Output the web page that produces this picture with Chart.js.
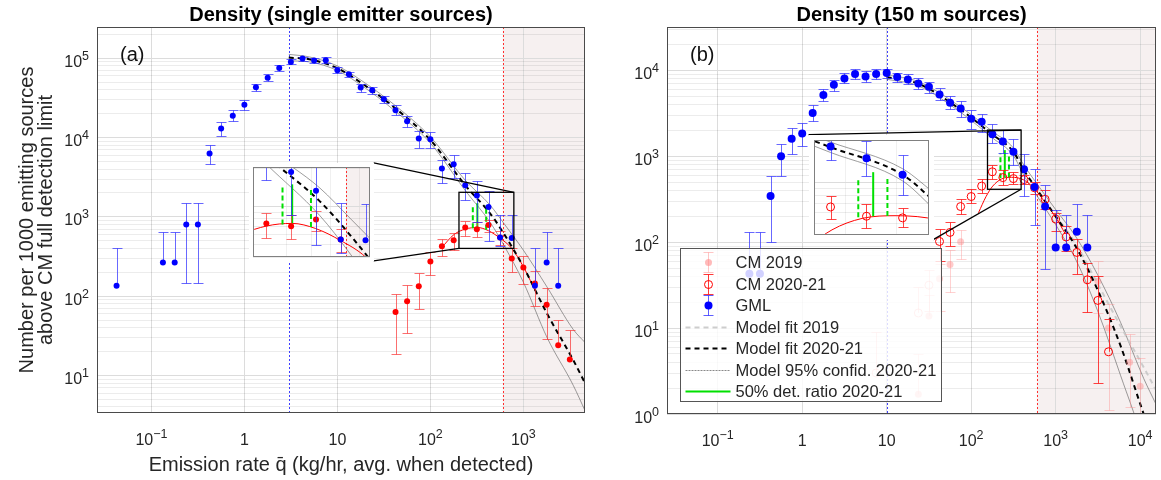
<!DOCTYPE html>
<html>
<head>
<meta charset="utf-8">
<script src="https://cdn.jsdelivr.net/npm/chart.js@4.4.0/dist/chart.umd.min.js"></script>
<style>
  html, body { margin: 0; padding: 0; background: #fff; }
  #wrap { position: relative; width: 1161px; height: 480px; overflow: hidden; }
  canvas { position: absolute; top: 0; }
</style>
</head>
<body>
<div id="wrap">
  <canvas id="cA" width="590" height="480" style="left:0px"></canvas>
  <canvas id="cB" width="571" height="480" style="left:590px"></canvas>
  <canvas id="iA"></canvas>
  <canvas id="iB"></canvas>
</div>
<script>
// ---------- panel (a): single emitter sources ----------
const aGmlQ  = [0.0422, 0.133, 0.178, 0.237, 0.316, 0.422, 0.562, 0.75, 1.0, 1.33, 1.78, 2.37, 3.16, 4.22, 5.62, 7.5, 10, 13.3, 17.8, 23.7, 31.6, 42.2, 56.2, 75, 100, 133, 178, 237, 316, 422, 562, 750, 1330, 1780, 2370];
const aGmlY  = [135, 265, 265, 800, 800, 6300, 13000, 18900, 26000, 43000, 57000, 75500, 90000, 99000, 93500, 94400, 70600, 62900, 42700, 39400, 30400, 22100, 16100, 9700, 9530, 4060, 4600, 2500, 1860, 1330, 550, 542, 135, 265, 135];
const aGmlLo = [null, null, null, 148, 148, 4600, 10500, 16100, 22500, 38700, 51500, 69000, 83500, 93600, 87000, 86400, 65300, 58200, 37600, 35500, 27400, 19300, 13400, 7400, 7360, 2690, 3100, 1620, 863, 500, 430, null, null, null, null];
const aGmlHi = [400, 650, 650, 1480, 1480, 8000, 15700, 22100, 30100, 48000, 63500, 82500, 97000, 104000, 99500, 103000, 77000, 68000, 46800, 43000, 33900, 25400, 18600, 12000, 11700, 5230, 6100, 3580, 2810, 2120, 1070, 1050, 400, 650, 400];

const aCmQ  = [42.2, 56.2, 75, 100, 133, 178, 237, 316, 422, 562, 750, 1000, 1330, 1780, 2370, 3160];
const aCmY  = [63, 86, 133, 273, 425, 507, 733, 698, 790, 550, 298, 230, 144, 78, 24, 15.9];
const aCmLo = [18.5, 34.7, 68, 184, 318, 379, 569, 558, 640, 440, 202, 144, 75, 29, null, null];
const aCmHi = [108, 137, 196, 361, 533, 627, 880, 855, 925, 660, 400, 318, 208, 125, 50, 37];

const aFitQ  = [3, 5, 10, 20, 40, 100, 237, 440, 630, 1000, 1800, 3440, 4600];
const aFitY  = [102000, 97000, 75000, 45000, 24500, 9300, 2500, 1100, 590, 235, 60, 15.6, 8];
const aFitUp = [112000, 104000, 80000, 48500, 26500, 10200, 2900, 1400, 800, 380, 130, 38, 26];
const aFitLo = [93000, 90000, 70000, 42000, 22500, 8500, 2150, 850, 420, 150, 30, 7.5, 3.6];

const aRedFitQ = [130, 180, 237, 320, 420, 560, 750, 1000, 1400];
const aRedFitY = [400, 600, 700, 735, 670, 540, 400, 235, 105];

const aDetQ  = [286, 320, 398];
const aDetLo = [720, 735, 690];
const aDetHi = [1420, 1490, 1400];

const aQLimBlue = 3, aQLimRed = 600;
const aZoomQ = [203, 790], aZoomY = [400, 2040];
const aInsetQ = [1.11, 24.6], aInsetY = [278, 4800];

const aXTickVals = [0.1, 1, 10, 100, 1000];
const aXTickLabels = ['10^−1', '1', '10', '10^2', '10^3'];
const aYTickVals = [10, 100, 1000, 10000, 100000];
const aYTickLabels = ['10^1', '10^2', '10^3', '10^4', '10^5'];

// ---------- panel (b): 150 m sources ----------
const bGmlQ  = [0.237, 0.316, 0.422, 0.562, 0.75, 1.0, 1.33, 1.78, 2.37, 3.16, 4.22, 5.62, 7.5, 10, 13.3, 17.8, 23.7, 31.6, 42.2, 56.2, 75, 100, 133, 178, 237, 316, 422, 562, 750, 1000, 1330, 1780, 2370];
const bGmlY  = [43, 43, 345, 1000, 1600, 1840, 3190, 5160, 6800, 8070, 9060, 8510, 9060, 9300, 8400, 7850, 7060, 6460, 5250, 4200, 3610, 2740, 2530, 1810, 1490, 1130, 706, 440, 260, 87, 87, 132, 87];
const bGmlLo = [null, null, 100, 590, 1070, 1320, 2570, 4400, 5800, 7060, 7850, 7400, 7850, 8150, 7380, 6870, 6120, 5500, 4480, 3510, 2900, 2100, 1920, 1440, 1100, 800, 345, 160, 48.5, null, null, null, null];
const bGmlHi = [130, 130, 590, 1400, 2150, 2450, 3920, 6120, 7800, 9230, 10250, 9800, 10250, 10500, 9320, 9000, 8070, 7400, 6220, 5020, 4400, 3420, 3080, 2400, 2000, 1570, 1050, 713, 467, 234, 206, 279, 206];

const bCmQ  = [42.2, 56.2, 75, 100, 133, 178, 237, 316, 422, 562, 750, 1000, 1330, 1780, 2370, 3160, 4220];
const bCmY  = [102, 130, 260, 340, 450, 660, 565, 550, 535, 430, 316, 186, 115, 76, 36.5, 21, 5.3];
const bCmLo = [60, 90, 212, 284, 378, 537, 463, 470, 470, 360, 242, 135, 80, 43, 15.5, 2.3, null];
const bCmHi = [142, 170, 316, 413, 537, 795, 692, 648, 610, 500, 400, 221, 155, 108, 58, 40, 12.7];

const bCm19Q  = [23.7, 31.6, 42.2, 56.2, 75, 3160, 4220, 7500, 10000];
const bCm19Y  = [1.7, 13.8, 37.5, 55, 101, 35, 10, 4, 2.1];
const bCm19Lo = [null, null, 16, 26, 63, 15, 1.1, 1.2, 1.0];
const bCm19Hi = [5, 24, 55, 82, 140, 60, 19, 8.5, 4.5];

const bCmFadeQ  = [7.5, 23.7, 31.6];
const bCmFadeY  = [3.0, 15, 31.6];
const bCmFadeLo = [null, null, 16];
const bCmFadeHi = [8.9, 30, 48];

const bFitQ  = [10, 23.7, 75, 178, 316, 420, 565, 1000, 1740, 3130, 5870, 11000, 15400];
const bFitY  = [8360, 7000, 3490, 1790, 1130, 690, 448, 200, 88, 28, 6.2, 1.0, 0.4];
const bFitUp = [8900, 7400, 3750, 1950, 1250, 790, 520, 240, 115, 42, 11.6, 2.6, 1.3];
const bFitLo = [7900, 6600, 3250, 1640, 1020, 600, 380, 160, 62, 16, 2.8, 0.45, 0.12];

const bFit19Q = [1000, 1740, 3130, 5870, 11000, 15400];
const bFit19Y = [205, 95, 33, 10.5, 3.5, 1.9];

const bRedFitQ = [122, 150, 180, 229, 300, 420, 560, 750, 1000, 1300];
const bRedFitY = [220, 340, 450, 545, 570, 530, 420, 290, 195, 125];

const bDetQ  = [222, 250, 280];
const bDetLo = [555, 565, 568];
const bDetHi = [1080, 1180, 1080];

const bQLimBlue = 10, bQLimRed = 600;
const bZoomQ = [156, 390], bZoomY = [413, 2020];
const bInsetQ = [1.19, 35.5], bInsetY = [107, 1790];

const bXTickVals = [0.1, 1, 10, 100, 1000, 10000];
const bXTickLabels = ['10^−1', '1', '10', '10^2', '10^3', '10^4'];
const bYTickVals = [1, 10, 100, 1000, 10000];
const bYTickLabels = ['10^0', '10^1', '10^2', '10^3', '10^4'];

const legendLabels = ['CM 2019', 'CM 2020-21', 'GML', 'Model fit 2019', 'Model fit 2020-21', 'Model 95% confid. 2020-21', '50% det. ratio 2020-21'];

// ---------- helpers ----------
const FONT = '"Liberation Sans", Arial, Helvetica, sans-serif';
const TXT = '#262626';
Chart.defaults.font.family = FONT;
Chart.defaults.color = TXT;

const pts = (xs, ys) => xs.map((q, i) => ({x: q, y: ys[i]}));

function lineDs(xs, ys, color, width, dash, order) {
  return {data: pts(xs, ys), showLine: true, borderColor: color, borderWidth: width, borderDash: dash,
    pointRadius: 0, fill: false, order: order, cubicInterpolationMode: 'monotone'};
}
function segDs(q, lo, hi, color, width, dash, order) {
  return {data: [{x: q, y: lo}, {x: q, y: hi}], showLine: true, borderColor: color, borderWidth: width,
    borderDash: dash, pointRadius: 0, fill: false, order: order, tension: 0};
}
function errDs(xs, ys, lo, hi, o) {
  return {data: pts(xs, ys), errLo: lo, errHi: hi, errColor: o.err, capW: o.cap, showLine: false,
    pointRadius: o.r, pointStyle: 'circle', pointBackgroundColor: o.fill, pointBorderColor: o.edge,
    pointBorderWidth: o.bw, order: o.order};
}

function datasetsA() {
  const ds = [
    lineDs(aFitQ, aFitUp, 'rgba(90,90,90,0.85)', 0.7, [], 6),
    lineDs(aFitQ, aFitLo, 'rgba(90,90,90,0.85)', 0.7, [], 6),
    lineDs(aFitQ, aFitY, '#000000', 2, [5, 4], 5),
    lineDs(aRedFitQ, aRedFitY, '#ff0000', 1, [], 5)
  ];
  aDetQ.forEach((q, i) => ds.push(segDs(q, aDetLo[i], aDetHi[i], '#00e000', 2, i === 1 ? [] : [5, 3], 4)));
  ds.push(errDs(aCmQ, aCmY, aCmLo, aCmHi, {err: 'rgba(250,50,50,0.7)', cap: 5, r: 3, fill: '#ff0000', edge: '#ff0000', bw: 0, order: 2}));
  ds.push(errDs(aGmlQ, aGmlY, aGmlLo, aGmlHi, {err: 'rgba(40,40,255,0.7)', cap: 5, r: 3, fill: '#0000ff', edge: '#0000ff', bw: 0, order: 1}));
  return ds;
}

function datasetsB() {
  const ds = [
    lineDs(bFitQ, bFitUp, 'rgba(90,90,90,0.85)', 0.7, [], 7),
    lineDs(bFitQ, bFitLo, 'rgba(90,90,90,0.85)', 0.7, [], 7),
    lineDs(bFit19Q, bFit19Y, 'rgba(200,200,200,0.9)', 2, [5, 4], 6),
    lineDs(bFitQ, bFitY, '#000000', 2, [5, 4], 5),
    lineDs(bRedFitQ, bRedFitY, '#ff0000', 1, [], 5)
  ];
  bDetQ.forEach((q, i) => ds.push(segDs(q, bDetLo[i], bDetHi[i], '#00e000', 2, i === 1 ? [] : [5, 3], 4)));
  ds.push(errDs(bCm19Q, bCm19Y, bCm19Lo, bCm19Hi, {err: 'rgba(255,140,140,0.4)', cap: 5, r: 3.5, fill: 'rgba(255,140,140,0.45)', edge: 'rgba(0,0,0,0)', bw: 0, order: 3}));
  ds.push(errDs(bCmFadeQ, bCmFadeY, bCmFadeLo, bCmFadeHi, {err: 'rgba(255,120,120,0.4)', cap: 5, r: 4, fill: 'rgba(0,0,0,0)', edge: 'rgba(255,110,110,0.5)', bw: 1, order: 3}));
  ds.push(errDs(bCmQ, bCmY, bCmLo, bCmHi, {err: 'rgba(255,20,20,0.8)', cap: 5, r: 4, fill: 'rgba(0,0,0,0)', edge: '#ff0000', bw: 1, order: 2}));
  ds.push(errDs(bGmlQ, bGmlY, bGmlLo, bGmlHi, {err: 'rgba(40,40,255,0.7)', cap: 5, r: 4, fill: '#0000ff', edge: '#0000ff', bw: 0, order: 1}));
  return ds;
}

function logTicks(scale) {
  const t = [];
  const e0 = Math.floor(Math.log10(scale.min)), e1 = Math.ceil(Math.log10(scale.max));
  for (let e = e0; e <= e1; e++) {
    for (let m = 1; m <= 9; m++) {
      const v = m * Math.pow(10, e);
      if (v >= scale.min * 0.9999 && v <= scale.max * 1.0001) t.push({value: v});
    }
  }
  scale.ticks = t;
}
const isMajor = v => Math.abs(Math.log10(v) - Math.round(Math.log10(v))) < 1e-6;

function axes(o) {
  return {
    x: {
      type: 'logarithmic', min: o.xr[0], max: o.xr[1], afterBuildTicks: logTicks,
      afterFit: s => { s.height = o.xh; },
      ticks: {display: false, autoSkip: false, maxRotation: 0, minRotation: 0},
      grid: {drawTicks: false, lineWidth: 1, color: c => (c.tick && isMajor(c.tick.value)) ? '#dcdcdc' : o.xMinor},
      border: {display: false},
      title: o.xTitle ? {display: true, text: o.xTitle, font: {size: 20}, color: TXT, padding: {top: 0, bottom: 3}} : {display: false}
    },
    y: {
      type: 'logarithmic', min: o.yr[0], max: o.yr[1], afterBuildTicks: logTicks,
      afterFit: s => { s.width = o.yw; },
      ticks: {display: false, autoSkip: false},
      grid: {drawTicks: false, lineWidth: 1, color: c => (c.tick && isMajor(c.tick.value)) ? '#dcdcdc' : 'rgba(0,0,0,0.075)'},
      border: {display: false},
      title: o.yTitle ? {display: true, text: o.yTitle, font: {size: 20, lineHeight: 0.97}, color: TXT, padding: {top: 17.5, bottom: 0}} : {display: false}
    }
  };
}

// error bars drawn just under each dataset's markers
const errorBars = {
  id: 'errorBars',
  beforeDatasetDraw(chart, args) {
    const ds = chart.data.datasets[args.index];
    if (!ds.errHi) return;
    const {ctx, chartArea: a} = chart;
    const x = chart.scales.x, y = chart.scales.y;
    ctx.save();
    ctx.beginPath();
    ctx.rect(a.left, a.top, a.right - a.left, a.bottom - a.top);
    ctx.clip();
    ctx.strokeStyle = ds.errColor;
    ctx.lineWidth = 1;
    const cap = ds.capW;
    ds.data.forEach((p, i) => {
      const px = Math.round(x.getPixelForValue(p.x)) + 0.5;
      const py = y.getPixelForValue(p.y);
      const hi = Math.round(y.getPixelForValue(ds.errHi[i])) + 0.5;
      const hasLo = ds.errLo[i] != null;
      const lo = hasLo ? Math.round(y.getPixelForValue(ds.errLo[i])) + 0.5 : py;
      ctx.beginPath();
      ctx.moveTo(px, lo); ctx.lineTo(px, hi);
      ctx.moveTo(px - cap, hi); ctx.lineTo(px + cap, hi);
      if (hasLo) { ctx.moveTo(px - cap, lo); ctx.lineTo(px + cap, lo); }
      ctx.stroke();
    });
    ctx.restore();
  }
};

// "10" with a raised exponent, placed through the scales
function drawPow(ctx, label, x, baseY, align) {
  const parts = label.split('^');
  ctx.font = '16px ' + FONT;
  const wb = ctx.measureText(parts[0]).width;
  let we = 0;
  if (parts[1]) { ctx.font = '12.5px ' + FONT; we = ctx.measureText(parts[1]).width; }
  const x0 = align === 'center' ? x - (wb + we) / 2 : x - wb - we;
  ctx.textAlign = 'left';
  ctx.textBaseline = 'alphabetic';
  ctx.font = '16px ' + FONT;
  ctx.fillText(parts[0], x0, baseY);
  if (parts[1]) { ctx.font = '12.5px ' + FONT; ctx.fillText(parts[1], x0 + wb, baseY - 7); }
}
function drawTickLabels(chart, cfg) {
  const {ctx, chartArea: a} = chart;
  ctx.save();
  ctx.fillStyle = TXT;
  cfg.xl[0].forEach((v, i) => drawPow(ctx, cfg.xl[1][i], chart.scales.x.getPixelForValue(v), a.bottom + 32, 'center'));
  cfg.yl[0].forEach((v, i) => drawPow(ctx, cfg.yl[1][i], a.left - 8, chart.scales.y.getPixelForValue(v) + 8.5, 'right'));
  ctx.restore();
}

function boxPx(chart, qs, ys) {
  const x = chart.scales.x, y = chart.scales.y;
  const l = x.getPixelForValue(qs[0]), r = x.getPixelForValue(qs[1]);
  const t = y.getPixelForValue(ys[1]), b = y.getPixelForValue(ys[0]);
  return {l, r, t, b, tl: [l, t], tr: [r, t], bl: [l, b], br: [r, b]};
}

function drawLegend(chart) {
  const {ctx, chartArea: a} = chart;
  const L = Math.round(a.left + 13) + 0.5, T = Math.round(a.top + 221) + 0.5, W = 261, H = 153;
  ctx.save();
  ctx.fillStyle = 'rgba(255,255,255,0.82)';
  ctx.fillRect(L, T, W, H);
  ctx.strokeStyle = '#555';
  ctx.lineWidth = 1;
  ctx.strokeRect(L, T, W, H);
  const sx0 = L + 5, sx1 = L + 50, cx = Math.round(L + 27) + 0.5;
  ctx.font = '16.5px ' + FONT;
  ctx.textBaseline = 'middle';
  legendLabels.forEach((txt, i) => {
    const cy = Math.round(T + 13.5 + i * 21.5) + 0.5;
    ctx.save();
    if (i < 3) {
      const col = ['rgba(255,140,140,0.5)', 'rgba(255,20,20,0.85)', 'rgba(40,40,255,0.75)'][i];
      ctx.strokeStyle = col; ctx.lineWidth = 1;
      ctx.beginPath();
      ctx.moveTo(cx, cy - 10); ctx.lineTo(cx, cy + 10);
      ctx.moveTo(cx - 5, cy - 10); ctx.lineTo(cx + 5, cy - 10);
      ctx.moveTo(cx - 5, cy + 10); ctx.lineTo(cx + 5, cy + 10);
      ctx.stroke();
      ctx.beginPath();
      ctx.arc(cx, cy, i === 0 ? 3.5 : 4, 0, Math.PI * 2);
      if (i === 1) { ctx.strokeStyle = '#ff0000'; ctx.stroke(); }
      else { ctx.fillStyle = i === 0 ? 'rgba(255,140,140,0.6)' : '#0000ff'; ctx.fill(); }
    } else {
      const st = [
        ['rgba(200,200,200,0.9)', 2, [5, 4]],
        ['#000000', 2, [5, 4]],
        ['rgba(90,90,90,0.9)', 0.8, [2, 1]],
        ['#00e000', 2, []]
      ][i - 3];
      ctx.strokeStyle = st[0]; ctx.lineWidth = st[1]; ctx.setLineDash(st[2]);
      ctx.beginPath(); ctx.moveTo(sx0, cy); ctx.lineTo(sx1, cy); ctx.stroke();
    }
    ctx.restore();
    ctx.fillStyle = TXT;
    ctx.fillText(txt, L + 55, cy + 1);
  });
  ctx.restore();
}

function decoPlugin(cfg) {
  return {
    id: 'deco',
    beforeDraw(chart) {
      const {ctx, chartArea: a} = chart;
      if (cfg.inset) { ctx.save(); ctx.fillStyle = '#ffffff'; ctx.fillRect(0, 0, chart.width, chart.height); ctx.restore(); }
      const xs = Math.max(a.left, chart.scales.x.getPixelForValue(cfg.shadeFrom));
      if (xs < a.right) {
        ctx.save();
        ctx.fillStyle = 'rgba(225,205,205,0.3)';
        ctx.fillRect(xs, a.top, a.right - xs, a.bottom - a.top);
        ctx.restore();
      }
    },
    beforeDatasetsDraw(chart) {
      const {ctx, chartArea: a} = chart;
      ctx.save();
      ctx.lineWidth = 1;
      ctx.setLineDash([2, 2]);
      cfg.vlines.forEach(v => {
        const px = chart.scales.x.getPixelForValue(v[0]);
        if (px < a.left || px > a.right) return;
        ctx.strokeStyle = v[1];
        ctx.beginPath(); ctx.moveTo(Math.round(px) + 0.5, a.top); ctx.lineTo(Math.round(px) + 0.5, a.bottom); ctx.stroke();
      });
      ctx.restore();
    },
    afterDatasetsDraw(chart) {
      if (!cfg.zoom) return;
      const {ctx} = chart;
      const z = boxPx(chart, cfg.zoom[0], cfg.zoom[1]);
      const ins = boxPx(chart, cfg.insetAt[0], cfg.insetAt[1]);
      ctx.save();
      ctx.strokeStyle = '#000';
      ctx.lineWidth = 1.3;
      ctx.strokeRect(z.l, z.t, z.r - z.l, z.b - z.t);
      cfg.links.forEach(k => {
        ctx.beginPath(); ctx.moveTo(ins[k[0]][0], ins[k[0]][1]); ctx.lineTo(z[k[1]][0], z[k[1]][1]); ctx.stroke();
      });
      ctx.restore();
    },
    afterDraw(chart) {
      const {ctx, chartArea: a} = chart;
      ctx.save();
      ctx.strokeStyle = cfg.inset ? '#808080' : '#4a4a4a';
      ctx.lineWidth = 1;
      ctx.strokeRect(Math.round(a.left) + 0.5, Math.round(a.top) + 0.5, Math.round(a.right - a.left) - 1, Math.round(a.bottom - a.top) - 1);
      if (cfg.title) {
        ctx.fillStyle = '#000';
        ctx.font = 'bold 20px ' + FONT;
        ctx.textAlign = 'center';
        ctx.textBaseline = 'middle';
        ctx.fillText(cfg.title, (a.left + a.right) / 2, 15);
        ctx.font = '20px ' + FONT;
        ctx.textAlign = 'left';
        ctx.fillStyle = '#111';
        ctx.fillText(cfg.tag, a.left + 23, 55);
      }
      ctx.restore();
      if (cfg.xl) drawTickLabels(chart, cfg);
      if (cfg.legend) drawLegend(chart);
    }
  };
}

function makeChart(canvas, datasets, axOpts, padding, cfg) {
  return new Chart(canvas, {
    type: 'scatter',
    data: {datasets: datasets},
    options: {
      responsive: false, animation: false, events: [],
      layout: {padding: padding},
      plugins: {legend: {display: false}, tooltip: {enabled: false}, title: {display: false}},
      scales: axes(axOpts)
    },
    plugins: [errorBars, decoPlugin(cfg)]
  });
}

// ---------- main panels ----------
const chartA = makeChart(document.getElementById('cA'), datasetsA(),
  {xr: [0.026, 4600], yr: [3.36, 248000], xh: 67, yw: 97, xMinor: 'rgba(0,0,0,0)',
   xTitle: 'Emission rate q\u0304 (kg/hr, avg. when detected)',
   yTitle: ['Number per 1000 emitting sources', 'above CM full detection limit']},
  {top: 27, right: 5, left: 0, bottom: 0},
  {title: 'Density (single emitter sources)', tag: '(a)', shadeFrom: aQLimRed,
   xl: [aXTickVals, aXTickLabels], yl: [aYTickVals, aYTickLabels],
   vlines: [[aQLimBlue, '#4040ff'], [aQLimRed, '#ff3030']],
   zoom: [aZoomQ, aZoomY], insetAt: [aInsetQ, aInsetY], links: [['tr', 'tr'], ['br', 'bl']]});

const chartB = makeChart(document.getElementById('cB'), datasetsB(),
  {xr: [0.0251, 15400], yr: [1, 32000], xh: 66, yw: 77, xMinor: 'rgba(0,0,0,0)'},
  {top: 27, right: 2, left: 0, bottom: 0},
  {title: 'Density (150 m sources)', tag: '(b)', shadeFrom: bQLimRed, legend: true,
   xl: [bXTickVals, bXTickLabels], yl: [bYTickVals, bYTickLabels],
   vlines: [[bQLimBlue, '#4040ff'], [bQLimRed, '#ff3030']],
   zoom: [bZoomQ, bZoomY], insetAt: [bInsetQ, bInsetY], links: [['tl', 'tr'], ['br', 'br']]});

// ---------- insets (zoomed views of the same data) ----------
function makeInset(main, offsetLeft, canvasId, datasets, win, at, cfg) {
  const p = boxPx(main, at[0], at[1]);
  const c = document.getElementById(canvasId);
  c.width = Math.round(p.r - p.l);
  c.height = Math.round(p.b - p.t);
  c.style.left = (offsetLeft + Math.round(p.l)) + 'px';
  c.style.top = Math.round(p.t) + 'px';
  return makeChart(c, datasets,
    {xr: win[0], yr: win[1], xh: 0, yw: 0, xMinor: 'rgba(0,0,0,0.06)'},
    {top: 0, right: 0, left: 0, bottom: 0}, cfg);
}

makeInset(chartA, 0, 'iA', datasetsA(), [aZoomQ, aZoomY], [aInsetQ, aInsetY],
  {inset: true, shadeFrom: aQLimRed, vlines: [[aQLimBlue, '#4040ff'], [aQLimRed, '#ff3030']]});
makeInset(chartB, 590, 'iB', datasetsB(), [bZoomQ, bZoomY], [bInsetQ, bInsetY],
  {inset: true, shadeFrom: bQLimRed, vlines: [[bQLimBlue, '#4040ff'], [bQLimRed, '#ff3030']]});
</script>
</body>
</html>
